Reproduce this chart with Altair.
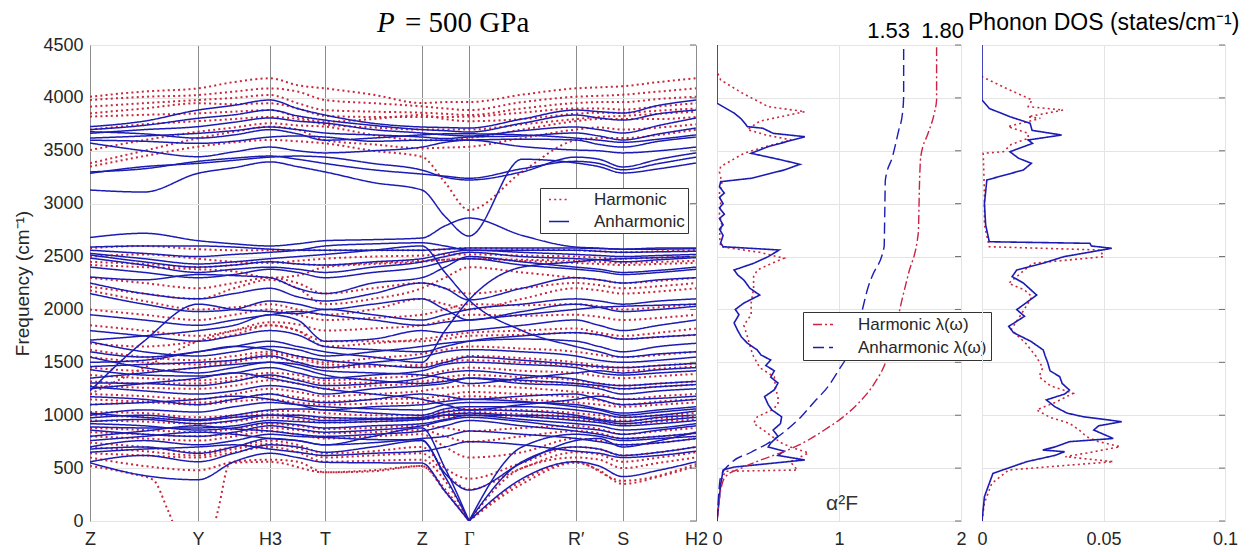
import altair as alt
import pandas as pd

RED = "#c8283c"
BLUE = "#1c1cb4"
FONT = "Liberation Sans"

# ---------------- band structure ----------------
K_GRID = [0, 54, 108, 144, 180, 207.5, 235, 283, 331.7, 355, 379, 432, 485.7, 509, 532.7, 569, 606]
SYM_POS = [0, 108, 180, 235, 331.7, 379, 485.7, 532.7, 606]
SYM_LABELS = ["Z", "Y", "H3", "T", "Z", "Γ", "R′", "S", "H2"]
GAMMA = 379

ANH_BANDS = [
    [3728, 3780, 3885, 3930, 3980, 3900, 3838, 3760, 3725, 3720, 3715, 3800, 3885, 3870, 3857, 3930, 3980],
    [3700, 3740, 3807, 3840, 3885, 3830, 3790, 3740, 3700, 3690, 3677, 3760, 3838, 3810, 3790, 3850, 3885],
    [3680, 3660, 3620, 3650, 3700, 3660, 3600, 3620, 3650, 3660, 3660, 3650, 3620, 3600, 3580, 3610, 3650],
    [3665, 3700, 3728, 3770, 3810, 3780, 3762, 3700, 3668, 3650, 3640, 3690, 3725, 3700, 3668, 3740, 3810],
    [3620, 3640, 3665, 3690, 3725, 3700, 3668, 3650, 3630, 3615, 3630, 3640, 3668, 3640, 3602, 3660, 3715],
    [3600, 3590, 3570, 3590, 3630, 3640, 3630, 3590, 3600, 3600, 3602, 3610, 3602, 3560, 3535, 3590, 3630],
    [3573, 3500, 3444, 3490, 3535, 3500, 3480, 3500, 3535, 3580, 3600, 3540, 3507, 3500, 3480, 3500, 3535],
    [3300, 3330, 3400, 3430, 3450, 3420, 3380, 3320, 3280, 3260, 3240, 3330, 3400, 3380, 3320, 3380, 3440],
    [3287, 3350, 3381, 3410, 3440, 3450, 3440, 3380, 3318, 3250, 3224, 3300, 3440, 3420, 3347, 3420, 3480],
    [3129, 3110, 3287, 3340, 3395, 3350, 3300, 3200, 3130, 2880, 2694, 3420, 3385, 3350, 3290, 3330, 3385],
    [2680, 2720, 2650, 2620, 2600, 2620, 2650, 2660, 2675, 2790, 2864, 2700, 2590, 2580, 2570, 2580, 2580],
    [2590, 2600, 2600, 2590, 2570, 2560, 2560, 2560, 2560, 2570, 2580, 2580, 2580, 2575, 2570, 2570, 2575],
    [2560, 2530, 2500, 2520, 2540, 2560, 2600, 2620, 2630, 2600, 2560, 2560, 2560, 2550, 2540, 2545, 2550],
    [2515, 2450, 2400, 2420, 2450, 2430, 2420, 2450, 2480, 2530, 2560, 2540, 2520, 2510, 2500, 2510, 2520],
    [2486, 2420, 2350, 2380, 2400, 2380, 2350, 2400, 2450, 2500, 2540, 2500, 2480, 2470, 2450, 2470, 2490],
    [2400, 2350, 2300, 2330, 2380, 2350, 2300, 2350, 2400, 2450, 2480, 2420, 2380, 2360, 2330, 2350, 2380],
    [2307, 2280, 2330, 2320, 2300, 2200, 2150, 2250, 2300, 2400, 2500, 2450, 2400, 2380, 2350, 2370, 2400],
    [2530, 2480, 2430, 2450, 2480, 2500, 2520, 2560, 2600, 2350, 2090, 1800, 1650, 1600, 1550, 1580, 1600],
    [1600, 1550, 1600, 1650, 1700, 1650, 1600, 1550, 1500, 1800, 2090, 2400, 2450, 2470, 2480, 2490, 2500],
    [2250, 2150, 2100, 2150, 2200, 2120, 2080, 2150, 2250, 2200, 2090, 2200, 2300, 2280, 2250, 2280, 2300],
    [2150, 2050, 1980, 2000, 2080, 2050, 2000, 2050, 2100, 2000, 1900, 1980, 2050, 2020, 1980, 2000, 2030],
    [1950, 1900, 1850, 1900, 1950, 1980, 1950, 1900, 1850, 1880, 1900, 1950, 2000, 2020, 2030, 2040, 2050],
    [1230, 1700, 2050, 2000, 1980, 1960, 2000, 1950, 1900, 1950, 2000, 2050, 2100, 2080, 2050, 2080, 2100],
    [1710, 1750, 1800, 1850, 1950, 1900, 1700, 1720, 1800, 1780, 1800, 1850, 1900, 1850, 1800, 1850, 1900],
    [1800, 1750, 1700, 1750, 1800, 1760, 1650, 1620, 1600, 1650, 1700, 1750, 1780, 1760, 1720, 1740, 1760],
    [1695, 1600, 1560, 1600, 1650, 1620, 1560, 1600, 1650, 1680, 1700, 1720, 1700, 1650, 1600, 1650, 1680],
    [1550, 1450, 1400, 1450, 1500, 1480, 1420, 1400, 1380, 1350, 1300, 1350, 1400, 1420, 1400, 1430, 1450],
    [1500, 1520, 1600, 1650, 1620, 1560, 1520, 1480, 1450, 1500, 1550, 1520, 1480, 1460, 1450, 1470, 1490],
    [1460, 1480, 1500, 1520, 1560, 1500, 1450, 1500, 1550, 1600, 1620, 1600, 1560, 1520, 1500, 1520, 1550],
    [1430, 1380, 1370, 1400, 1450, 1400, 1350, 1380, 1420, 1480, 1500, 1480, 1450, 1400, 1380, 1400, 1420],
    [1350, 1400, 1450, 1480, 1500, 1450, 1380, 1330, 1300, 1320, 1350, 1330, 1300, 1280, 1250, 1270, 1290],
    [1305, 1300, 1280, 1320, 1380, 1330, 1280, 1300, 1350, 1400, 1420, 1380, 1340, 1300, 1280, 1300, 1320],
    [1270, 1230, 1200, 1230, 1280, 1250, 1200, 1250, 1280, 1300, 1350, 1300, 1280, 1250, 1200, 1230, 1250],
    [1250, 1300, 1350, 1400, 1350, 1300, 1250, 1200, 1150, 1100, 1050, 1100, 1150, 1180, 1150, 1160, 1180],
    [1175, 1150, 1100, 1150, 1200, 1150, 1120, 1150, 1200, 1180, 1150, 1180, 1200, 1150, 1100, 1120, 1150],
    [1100, 1120, 1150, 1180, 1150, 1100, 1050, 1080, 1100, 1130, 1150, 1130, 1080, 1050, 1000, 1030, 1060],
    [1000, 1050, 1030, 1080, 1120, 1100, 1080, 1060, 1050, 1100, 1120, 1120, 1100, 1060, 1020, 1050, 1080],
    [1020, 980, 950, 980, 1000, 980, 950, 960, 970, 1000, 1000, 1000, 980, 950, 920, 950, 980],
    [975, 1000, 960, 1000, 1050, 1060, 1050, 1020, 1000, 1060, 1080, 1080, 1050, 1020, 980, 1000, 1040],
    [940, 960, 920, 950, 1000, 1000, 980, 970, 980, 1030, 1050, 1040, 1000, 960, 940, 980, 1000],
    [920, 900, 860, 880, 930, 910, 880, 900, 920, 960, 1000, 960, 920, 900, 860, 880, 920],
    [890, 880, 880, 900, 950, 940, 930, 940, 960, 1000, 1020, 990, 950, 930, 900, 920, 950],
    [860, 820, 800, 840, 900, 870, 840, 860, 900, 950, 980, 940, 880, 860, 820, 860, 900],
    [800, 850, 900, 870, 850, 820, 800, 820, 850, 900, 950, 900, 850, 820, 780, 800, 830],
    [760, 800, 840, 820, 780, 760, 720, 740, 780, 800, 850, 820, 780, 750, 720, 740, 780],
    [700, 760, 720, 760, 820, 800, 790, 770, 766, 450, 293, 550, 760, 780, 700, 760, 840],
    [650, 680, 700, 720, 680, 650, 620, 640, 660, 700, 750, 720, 660, 640, 600, 620, 660],
    [680, 700, 640, 700, 780, 760, 720, 800, 880, 500, 0, 700, 820, 800, 760, 780, 800],
    [560, 620, 560, 640, 720, 700, 650, 700, 760, 420, 0, 560, 700, 680, 620, 650, 700],
    [550, 430, 390, 560, 640, 600, 555, 550, 548, 280, 0, 400, 560, 520, 420, 480, 560],
]

HARM_BANDS = [
    [4011, 4060, 4090, 4150, 4185, 4120, 4090, 4030, 3951, 3960, 3960, 4030, 4090, 4100, 4110, 4150, 4185],
    [3980, 4010, 4027, 4060, 4090, 4060, 3980, 3950, 3920, 3900, 3885, 3960, 4011, 4020, 4030, 4060, 4090],
    [3917, 3950, 3980, 4000, 4027, 3950, 3885, 3870, 3860, 3850, 3838, 3900, 3951, 3960, 3960, 3990, 4011],
    [3854, 3900, 3949, 3940, 3949, 3900, 3830, 3820, 3820, 3820, 3823, 3860, 3900, 3900, 3890, 3920, 3950],
    [3823, 3840, 3854, 3870, 3885, 3820, 3775, 3800, 3838, 3800, 3780, 3800, 3850, 3860, 3860, 3880, 3900],
    [3700, 3750, 3780, 3800, 3820, 3800, 3750, 3720, 3700, 3700, 3700, 3750, 3800, 3820, 3830, 3850, 3870],
    [3507, 3600, 3680, 3720, 3760, 3740, 3728, 3650, 3600, 3600, 3620, 3700, 3780, 3800, 3800, 3800, 3820],
    [3382, 3500, 3618, 3680, 3728, 3700, 3600, 3560, 3524, 3530, 3538, 3620, 3700, 3720, 3700, 3720, 3750],
    [3350, 3450, 3539, 3580, 3602, 3590, 3570, 3500, 3444, 3200, 2940, 3300, 3600, 3620, 3620, 3650, 3700],
    [2580, 2600, 2570, 2560, 2560, 2560, 2560, 2560, 2560, 2570, 2580, 2570, 2560, 2550, 2540, 2550, 2560],
    [2500, 2520, 2480, 2450, 2440, 2460, 2480, 2500, 2510, 2520, 2520, 2510, 2500, 2490, 2480, 2490, 2500],
    [2450, 2430, 2400, 2420, 2450, 2430, 2420, 2440, 2460, 2470, 2480, 2470, 2460, 2450, 2440, 2450, 2460],
    [2420, 2400, 2380, 2360, 2300, 2320, 2400, 2430, 2450, 2470, 2480, 2460, 2440, 2430, 2420, 2430, 2440],
    [2300, 2250, 2200, 2250, 2300, 2250, 2150, 2200, 2250, 2200, 2150, 2200, 2250, 2230, 2200, 2220, 2250],
    [2215, 2150, 2100, 2200, 2280, 2200, 2050, 2100, 2200, 2300, 2400, 2350, 2300, 2280, 2250, 2270, 2300],
    [2180, 2080, 2000, 2020, 2050, 2000, 1950, 2000, 2100, 2050, 2000, 2100, 2200, 2180, 2150, 2170, 2200],
    [2000, 1950, 1900, 1950, 2000, 1950, 1900, 1920, 1950, 2000, 2050, 2040, 2050, 2030, 2000, 2020, 2050],
    [1200, 1450, 1700, 1800, 1880, 1860, 1800, 1820, 1850, 1900, 1950, 1940, 1950, 1930, 1900, 1920, 1950],
    [1850, 1800, 1750, 1800, 1850, 1800, 1700, 1700, 1700, 1720, 1750, 1760, 1780, 1760, 1720, 1740, 1760],
    [1680, 1650, 1700, 1760, 1850, 1800, 1650, 1680, 1720, 1750, 1780, 1800, 1820, 1780, 1750, 1780, 1820],
    [1620, 1550, 1520, 1560, 1600, 1560, 1500, 1540, 1580, 1620, 1650, 1630, 1600, 1570, 1550, 1570, 1600],
    [1550, 1500, 1480, 1520, 1580, 1540, 1480, 1470, 1460, 1500, 1520, 1500, 1470, 1450, 1420, 1440, 1460],
    [1450, 1420, 1450, 1500, 1550, 1500, 1450, 1460, 1480, 1520, 1560, 1540, 1500, 1470, 1450, 1470, 1490],
    [1380, 1350, 1330, 1360, 1400, 1380, 1330, 1350, 1380, 1420, 1450, 1420, 1400, 1370, 1350, 1370, 1390],
    [1320, 1300, 1300, 1330, 1370, 1340, 1300, 1310, 1320, 1360, 1380, 1360, 1330, 1300, 1280, 1300, 1320],
    [1280, 1260, 1250, 1280, 1330, 1300, 1250, 1280, 1300, 1330, 1350, 1320, 1300, 1270, 1250, 1270, 1290],
    [1200, 1180, 1150, 1200, 1250, 1220, 1180, 1200, 1230, 1260, 1280, 1260, 1220, 1200, 1150, 1180, 1200],
    [1150, 1130, 1120, 1150, 1200, 1170, 1130, 1150, 1160, 1190, 1220, 1200, 1170, 1140, 1100, 1130, 1150],
    [1100, 1120, 1100, 1130, 1150, 1120, 1100, 1110, 1120, 1150, 1180, 1150, 1120, 1100, 1080, 1100, 1120],
    [1030, 1020, 980, 1000, 1040, 1040, 1020, 1000, 1000, 1040, 1060, 1050, 1020, 1000, 980, 1000, 1020],
    [1000, 980, 950, 980, 1010, 1000, 970, 970, 980, 1010, 1030, 1010, 990, 970, 950, 970, 990],
    [950, 940, 920, 940, 980, 960, 930, 940, 960, 980, 1000, 990, 960, 940, 920, 940, 960],
    [880, 860, 840, 870, 920, 900, 870, 880, 900, 880, 850, 880, 900, 870, 820, 850, 880],
    [840, 820, 800, 830, 880, 860, 830, 840, 860, 800, 750, 800, 850, 830, 780, 800, 830],
    [800, 780, 760, 800, 850, 820, 780, 800, 820, 700, 600, 650, 780, 760, 720, 740, 780],
    [740, 700, 650, 700, 760, 720, 640, 660, 700, 500, 400, 550, 700, 680, 620, 650, 700],
    [700, 660, 620, 680, 730, 690, 600, 620, 640, 450, 300, 500, 650, 630, 560, 600, 650],
    [640, 620, 600, 650, 700, 650, 560, 570, 580, 380, 0, 500, 600, 580, 500, 550, 600],
    [600, 520, 480, 560, 580, 560, 460, 470, 520, 300, 0, 350, 550, 480, 350, 420, 520],
]

# soft harmonic mode that dips below zero around Y
SOFT_K = [0, 40, 63, 78, 108, 128, 140, 180, 235, 283, 331.7, 355, 379, 432, 485.7, 532.7, 606]
SOFT_F = [520, 450, 390, 100, -600, 100, 548, 560, 460, 480, 520, 280, 0, 380, 560, 380, 540]

# ---------------- alpha^2 F and lambda ----------------
A2F_ANH_F = [0, 340, 482, 510, 577, 620, 660, 700, 737, 800, 860, 920, 985, 1050, 1100, 1176, 1240,
             1304, 1360, 1420, 1470, 1522, 1570, 1617, 1680, 1740, 1800, 1872, 1950, 2000, 2060, 2136,
             2200, 2278, 2326, 2373, 2436, 2499, 2562, 2593, 2628, 2700, 2760, 2800, 2860, 2900, 2960,
             3000, 3060, 3100, 3160, 3208, 3240, 3318, 3372, 3413, 3476, 3539, 3633, 3665, 3713, 3728,
             3800, 3857, 3950, 4500]
A2F_ANH_V = [0, 0.03, 0.05, 0.14, 0.72, 0.5, 0.55, 0.42, 0.44, 0.5, 0.46, 0.52, 0.53, 0.45, 0.42, 0.39, 0.47,
             0.5, 0.44, 0.47, 0.4, 0.44, 0.36, 0.33, 0.25, 0.2, 0.17, 0.14, 0.18, 0.15, 0.22, 0.35,
             0.27, 0.22, 0.17, 0.14, 0.3, 0.42, 0.51, 0.05, 0.03, 0.05, 0.02, 0.05, 0.02, 0.06, 0.02,
             0.05, 0.02, 0.06, 0.02, 0.03, 0.28, 0.55, 0.68, 0.53, 0.28, 0.42, 0.72, 0.46, 0.376, 0.25,
             0.2, 0.14, 0, 0]
A2F_HARM_F = [0, 380, 470, 482, 560, 643, 700, 737, 800, 860, 923, 985, 1050, 1100, 1176, 1250, 1361,
              1450, 1555, 1617, 1740, 1850, 1950, 2060, 2200, 2310, 2373, 2436, 2484, 2540, 2593, 2700,
              2800, 2900, 3000, 3100, 3200, 3300, 3350, 3476, 3540, 3602, 3650, 3700, 3780, 3870, 3917,
              4050, 4170, 4250]
A2F_HARM_V = [0, 0.03, 0.07, 0.66, 0.6, 0.75, 0.6, 0.53, 0.45, 0.38, 0.3, 0.33, 0.45, 0.5, 0.5, 0.48, 0.47,
              0.35, 0.3, 0.28, 0.25, 0.22, 0.28, 0.28, 0.3, 0.3, 0.33, 0.45, 0.55, 0.35, 0.03, 0.02,
              0.04, 0.02, 0.03, 0.02, 0.04, 0.02, 0.03, 0.22, 0.4, 0.61, 0.4, 0.25, 0.35, 0.72, 0.42,
              0.2, 0.03, 0]
LAM_ANH_F = [0, 420, 548, 650, 737, 860, 986, 1130, 1270, 1430, 1587, 1900, 2215, 2310, 2593, 2900,
             3224, 3450, 3696, 3850, 4011, 4500]
LAM_ANH_V = [0, 0.03, 0.115, 0.28, 0.42, 0.57, 0.69, 0.8, 0.91, 1.0, 1.08, 1.17, 1.24, 1.27, 1.37, 1.375,
             1.38, 1.44, 1.49, 1.52, 1.53, 1.53]
LAM_HARM_F = [0, 290, 420, 500, 577, 671, 760, 860, 980, 1115, 1300, 1493, 1750, 2060, 2342, 2722,
              3200, 3444, 3665, 3850, 3980, 4500]
LAM_HARM_V = [0, 0.03, 0.07, 0.2, 0.36, 0.58, 0.74, 0.88, 1.03, 1.16, 1.29, 1.38, 1.45, 1.51, 1.57, 1.65,
              1.66, 1.67, 1.73, 1.78, 1.8, 1.8]
LAM_TOTALS = [1.53, 1.80]
LAM_TOTAL_TEXT = ["1.53", "1.80"]

# ---------------- phonon DOS ----------------
DOS_ANH_F = [0, 230, 450, 561, 620, 655, 671, 700, 750, 780, 820, 860, 900, 939, 986, 1020, 1080, 1145,
             1200, 1238, 1300, 1364, 1420, 1500, 1560, 1617, 1700, 1780, 1840, 1935, 1998, 2060, 2136,
             2250, 2310, 2373, 2436, 2499, 2578, 2600, 2625, 2640, 2800, 3000, 3224, 3318, 3381, 3430,
             3491, 3570, 3602, 3649, 3693, 3760, 3822, 3900, 3980, 4500]
DOS_ANH_V = [0, 0.001, 0.0045, 0.0184, 0.03, 0.034, 0.025, 0.03, 0.036, 0.054, 0.05, 0.046, 0.048, 0.0575,
             0.0416, 0.035, 0.03, 0.0265, 0.034, 0.036, 0.033, 0.032, 0.028, 0.027, 0.026, 0.0252, 0.02,
             0.013, 0.011, 0.0175, 0.0143, 0.018, 0.0225, 0.017, 0.0124, 0.0143, 0.025, 0.0337, 0.0534,
             0.045, 0.0444, 0.003, 0.0015, 0.001, 0.002, 0.017, 0.0203, 0.015, 0.0115, 0.0208, 0.019,
             0.0328, 0.0206, 0.0198, 0.0115, 0.003, 0, 0]
DOS_HARM_F = [0, 170, 355, 482, 561, 608, 650, 703, 750, 797, 860, 923, 980, 1050, 1120, 1207, 1280, 1364,
              1450, 1555, 1680, 1809, 1950, 2120, 2184, 2247, 2373, 2436, 2499, 2562, 2593, 2800, 3100,
              3476, 3491, 3560, 3618, 3665, 3728, 3807, 3822, 3885, 3917, 3980, 4074, 4200]
DOS_HARM_V = [0, 0.001, 0.004, 0.011, 0.054, 0.0343, 0.045, 0.0568, 0.048, 0.043, 0.04, 0.036, 0.028,
              0.0225, 0.03, 0.0375, 0.028, 0.0235, 0.025, 0.0223, 0.018, 0.012, 0.016, 0.0206, 0.0175,
              0.011, 0.0175, 0.021, 0.05, 0.0486, 0.003, 0.001, 0.001, 0.0005, 0.0088, 0.012, 0.019,
              0.019, 0.0107, 0.024, 0.019, 0.0334, 0.019, 0.0206, 0.0115, 0]

YVALS = list(range(0, 4501, 500))
A2F_TICKS = [0.0, 1.0, 2.0]
DOS_TICKS = [0.0, 0.05, 0.1]

# ---------------- build tables ----------------
rows = []


def add_band(series, bid, ks, fs):
    if GAMMA in ks and fs[ks.index(GAMMA)] == 0:
        g = ks.index(GAMMA)
        segs = [(ks[:g + 1], fs[:g + 1]), (ks[g:], fs[g:])]
    else:
        segs = [(ks, fs)]
    for si, (kk, ff) in enumerate(segs):
        for k, f in zip(kk, ff):
            rows.append({"series": series, "band": f"{series}{bid}_{si}", "k": k, "f": f})


for i, b in enumerate(HARM_BANDS):
    add_band("Harmonic", i, K_GRID, b)
add_band("Harmonic", "soft", SOFT_K, SOFT_F)
for i, b in enumerate(ANH_BANDS):
    add_band("Anharmonic", i, K_GRID, b)
bands = pd.DataFrame(rows)

S_A2F_H, S_A2F_A = "a2F harmonic", "a2F anharmonic"
S_LAM_H, S_LAM_A = "Harmonic λ(ω)", "Anharmonic λ(ω)"
a2f = pd.concat([
    pd.DataFrame({"f": A2F_HARM_F, "v": A2F_HARM_V, "s2": S_A2F_H}),
    pd.DataFrame({"f": A2F_ANH_F, "v": A2F_ANH_V, "s2": S_A2F_A}),
])
lam = pd.concat([
    pd.DataFrame({"f": LAM_HARM_F, "v": LAM_HARM_V, "s2": S_LAM_H}),
    pd.DataFrame({"f": LAM_ANH_F, "v": LAM_ANH_V, "s2": S_LAM_A}),
])
dos = pd.concat([
    pd.DataFrame({"f": DOS_HARM_F, "v": DOS_HARM_V, "s3": "DOS harmonic"}),
    pd.DataFrame({"f": DOS_ANH_F, "v": DOS_ANH_V, "s3": "DOS anharmonic"}),
])
ticks_df = pd.DataFrame({"f": YVALS})

H = 476
W1, W2, W3 = 606, 244, 243
GRID_LIGHT = "#e4e4e4"
FRAME = "#6e6e6e"
LBL = dict(labelFont=FONT, labelFontSize=18, labelColor="#262626")

y_main = alt.Y("f:Q", scale=alt.Scale(domain=[0, 4500], nice=False, zero=False),
               axis=alt.Axis(values=YVALS, format="d", title="Frequency (cm⁻¹)", titleFont=FONT,
                             titleFontSize=19, titleFontWeight="normal", titleColor="#262626",
                             titlePadding=10, labelPadding=7, ticks=False, domain=False, grid=True,
                             gridColor=GRID_LIGHT, **LBL))
y_side = alt.Y("f:Q", scale=alt.Scale(domain=[0, 4500], nice=False, zero=False),
               axis=alt.Axis(values=YVALS, title=None, labels=False, ticks=False, domain=False,
                             grid=True, gridColor=GRID_LIGHT))


def right_ticks(width, y_enc):
    return alt.Chart(ticks_df).mark_rule(color=FRAME, strokeWidth=1).encode(
        y=y_enc, x=alt.value(width - 6), x2=alt.value(width))


label_expr = ("[" + ",".join(f"'{s}'" for s in SYM_LABELS) + "][indexof([" +
              ",".join(str(p) for p in SYM_POS) + "], datum.value)]")
x_bands = alt.X("k:Q", scale=alt.Scale(domain=[0, 606], nice=False, zero=False),
                axis=alt.Axis(values=SYM_POS, labelExpr=label_expr, title=None, ticks=False, domain=False,
                              grid=True, gridColor="#8c8c8c", gridWidth=1, labelPadding=9,
                              labelFlush=False,
                              labelFont={"condition": {"test": "datum.value == 379", "value": "Liberation Serif"},
                                         "value": FONT},
                              labelFontSize=18, labelColor="#262626"))

band_color = alt.Color("series:N", scale=alt.Scale(domain=["Harmonic", "Anharmonic"], range=[RED, BLUE]),
                       legend=alt.Legend(title=None, orient="none", legendX=450, legendY=143,
                                         symbolType="M-0.5,0H3.5", symbolSize=100, symbolStrokeWidth=1.6,
                                         labelOffset=34, labelFont=FONT, labelFontSize=17,
                                         labelColor="#262626", rowPadding=4, padding=3,
                                         strokeColor="#333333", fillColor="white"))
band_dash = alt.StrokeDash("series:N", scale=alt.Scale(domain=["Harmonic", "Anharmonic"],
                                                       range=[[2, 3.2], [1, 0]]), legend=None)

harm_layer = alt.Chart(bands).transform_filter(alt.datum.series == "Harmonic").mark_line(
    interpolate="monotone", clip=True, strokeWidth=2.0).encode(
    x=x_bands, y=y_main, color=band_color, strokeDash=band_dash, detail="band:N")
anh_layer = alt.Chart(bands).transform_filter(alt.datum.series == "Anharmonic").mark_line(
    interpolate="monotone", clip=True, strokeWidth=1.5).encode(
    x=x_bands, y=y_main, color=band_color, strokeDash=band_dash, detail="band:N")

title_p = alt.Chart(pd.DataFrame({"t": ["P"]})).mark_text(
    font="Liberation Serif", fontSize=29, fontStyle="italic", align="left", baseline="alphabetic",
    color="black").encode(text="t:N", x=alt.value(287), y=alt.value(-13))
title_rest = alt.Chart(pd.DataFrame({"t": ["= 500 GPa"]})).mark_text(
    font="Liberation Serif", fontSize=29, align="left", baseline="alphabetic",
    color="black").encode(text="t:N", x=alt.value(315), y=alt.value(-13))

panel1 = alt.layer(harm_layer, anh_layer, right_ticks(W1, y_main), title_p, title_rest).properties(
    width=W1, height=H)

# panel 2
x_a2f = alt.X("v:Q", scale=alt.Scale(domain=[0, 2], nice=False, zero=False),
              axis=alt.Axis(values=A2F_TICKS, labelExpr="toString(datum.value)", title=None, ticks=False,
                            domain=False, grid=True, gridColor=GRID_LIGHT, labelPadding=9,
                            labelFlush=False, labelOverlap=False, **LBL))
S2_DOMAIN = [S_A2F_H, S_A2F_A, S_LAM_H, S_LAM_A]
c2 = alt.Color("s2:N", scale=alt.Scale(domain=S2_DOMAIN, range=[RED, BLUE, "#cc2244", BLUE]),
               legend=alt.Legend(title=None, values=[S_LAM_H, S_LAM_A], orient="none", legendX=86,
                                 legendY=267, symbolType="M-0.5,0H3.5", symbolSize=100,
                                 symbolStrokeWidth=1.6, labelOffset=34, labelFont=FONT, labelFontSize=17,
                                 labelColor="#262626", rowPadding=5, padding=4, labelLimit=300,
                                 strokeColor="#333333", fillColor="white"))
d2 = alt.StrokeDash("s2:N", scale=alt.Scale(domain=S2_DOMAIN,
                                            range=[[2, 3.2], [1, 0], [9, 3, 2, 3], [11, 5]]), legend=None)
a2f_layer = alt.Chart(a2f).mark_line(clip=True, strokeWidth=1.6).encode(
    x=x_a2f, y=y_side, color=c2, strokeDash=d2, order="f:Q", detail="s2:N")
lam_layer = alt.Chart(lam).mark_line(clip=True, strokeWidth=1.4, interpolate="monotone").encode(
    x=x_a2f, y=y_side, color=c2, strokeDash=d2, order="f:Q", detail="s2:N")
lam_text_a = alt.Chart(pd.DataFrame({"v": [LAM_TOTALS[0]], "t": [LAM_TOTAL_TEXT[0]]})).mark_text(
    font=FONT, fontSize=22, baseline="alphabetic", align="center", color="black", dx=-15).encode(
    x=x_a2f, y=alt.value(-7), text="t:N")
lam_text_h = alt.Chart(pd.DataFrame({"v": [LAM_TOTALS[1]], "t": [LAM_TOTAL_TEXT[1]]})).mark_text(
    font=FONT, fontSize=22, baseline="alphabetic", align="center", color="black", dx=6).encode(
    x=x_a2f, y=alt.value(-7), text="t:N")
a2f_label = alt.Chart(pd.DataFrame({"t": ["α²F"]})).mark_text(
    font=FONT, fontSize=21, baseline="alphabetic", align="center", color="#333333").encode(
    text="t:N", x=alt.value(125), y=alt.value(465))
panel2 = alt.layer(a2f_layer, lam_layer, right_ticks(W2, y_side), lam_text_a, lam_text_h,
                   a2f_label).properties(width=W2, height=H)

# panel 3
x_dos = alt.X("v:Q", scale=alt.Scale(domain=[0, 0.1], nice=False, zero=False),
              axis=alt.Axis(values=DOS_TICKS, labelExpr="toString(datum.value)", title=None,
                            ticks=False, domain=False, grid=True, gridColor=GRID_LIGHT, labelPadding=9,
                            labelFlush=False, labelOverlap=False, **LBL))
c3 = alt.Color("s3:N", scale=alt.Scale(domain=["DOS harmonic", "DOS anharmonic"], range=[RED, BLUE]),
               legend=None)
d3 = alt.StrokeDash("s3:N", scale=alt.Scale(domain=["DOS harmonic", "DOS anharmonic"],
                                            range=[[2, 3.2], [1, 0]]), legend=None)
dos_layer = alt.Chart(dos).mark_line(clip=True, strokeWidth=1.6).encode(
    x=x_dos, y=y_side, color=c3, strokeDash=d3, order="f:Q", detail="s3:N")
dos_title = alt.Chart(pd.DataFrame({"t": ["Phonon DOS (states/cm⁻¹)"]})).mark_text(
    font=FONT, fontSize=23, baseline="alphabetic", align="left", color="black", dx=-14).encode(
    text="t:N", x=alt.value(0), y=alt.value(-15))
panel3 = alt.layer(dos_layer, right_ticks(W3, y_side), dos_title).properties(width=W3, height=H)

chart = alt.hconcat(panel1, panel2, panel3, spacing=21, bounds="flush").resolve_scale(
    color="independent", strokeDash="independent", x="independent", y="independent"
).properties(
    padding={"left": 13, "top": 8, "right": 5, "bottom": 5},
    background="white",
).configure_view(stroke=FRAME, strokeWidth=1)

chart.save("out.html", embed_options={"renderer": "svg", "actions": False})
